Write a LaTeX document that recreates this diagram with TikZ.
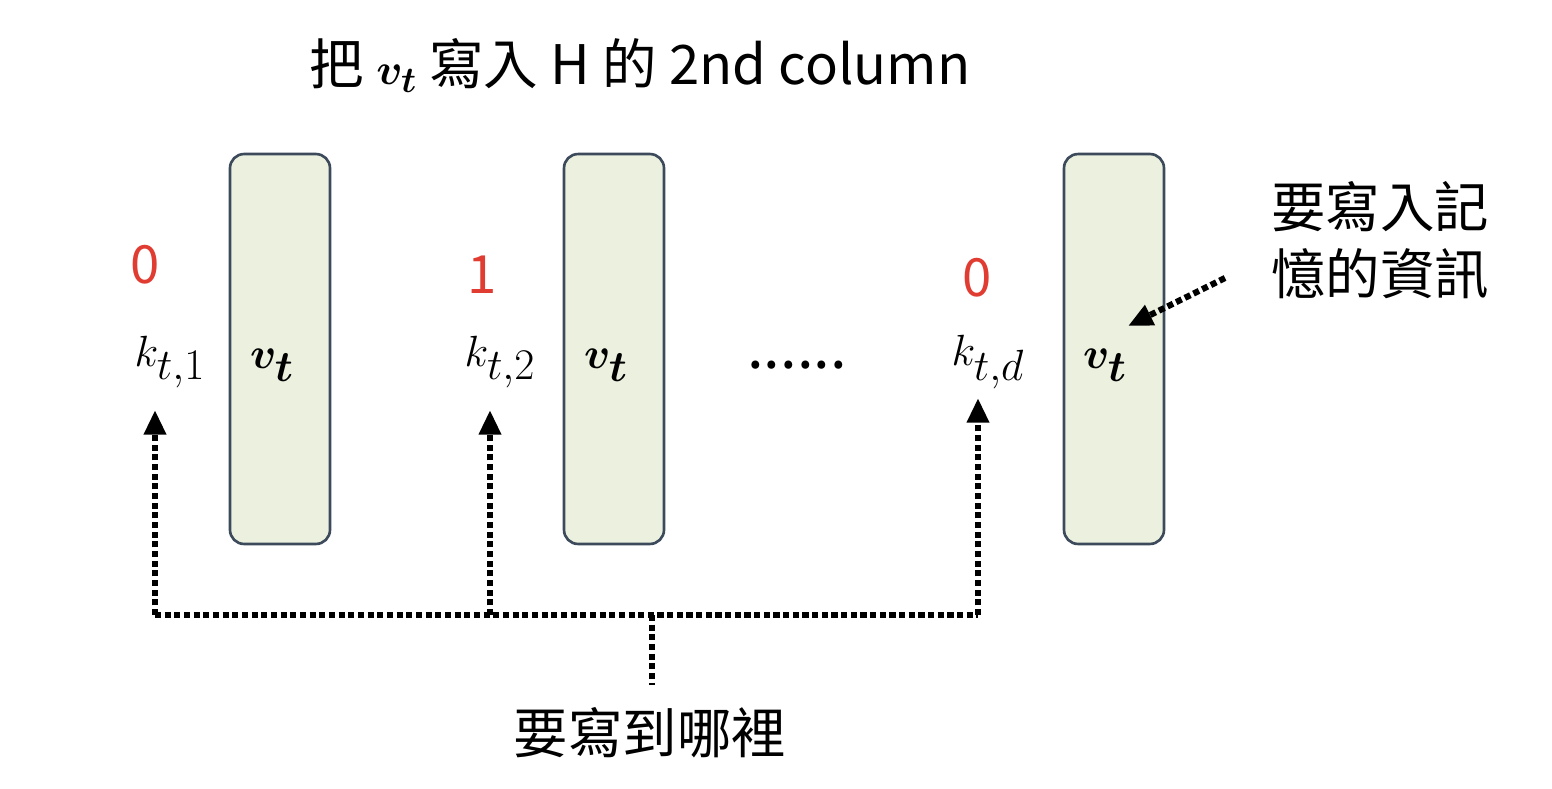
\documentclass[tikz,border=0pt]{standalone}
\usepackage{fontspec}
\usepackage{amsmath,bm}
\setmainfont{Noto Sans CJK TC}
\usetikzlibrary{arrows.meta}
\definecolor{boxfill}{HTML}{EBF1DE}
\definecolor{boxline}{HTML}{3C4A5C}
\definecolor{redz}{HTML}{E03C31}
\begin{document}
\begin{tikzpicture}[x=0.02cm,y=-0.02cm,
  col/.style={draw=boxline,line width=1.5pt,fill=boxfill,rounded corners=8pt,minimum width=2cm,minimum height=7.8cm,inner sep=0},
  cjk/.style={font=\fontsize{31}{38}\selectfont},
  kl/.style={font=\fontsize{34}{40}\selectfont},
  num/.style={text=redz,font=\fontsize{30}{36}\selectfont},
  dl/.style={line width=3.5pt,dotted,line cap=butt},
  tip/.style={-{Triangle[length=14pt,width=12pt]}}]
\useasboundingbox (0,0) rectangle (1552,788);
\node[cjk] (title) at (640,65) {把 $\bm{v_t}$ 寫入 {\rmfamily H} 的 2nd column};
\node[col] (c1) at (280,349) {};
\node[col] (c2) at (614,349) {};
\node[col] (c3) at (1114,349) {};
\node[kl] (v1) at (272,365) {$\bm{v_t}$};
\node[kl] (v2) at (606,365) {$\bm{v_t}$};
\node[kl] (v3) at (1105,365) {$\bm{v_t}$};
\node[kl] (k1) at (170,362) {$k_{t,1}$};
\node[kl] (k2) at (500,362) {$k_{t,2}$};
\node[kl] (k3) at (988,362) {$k_{t,d}$};
\node[num] (n1) at (145,265) {0};
\node[num] (n2) at (482,275) {1};
\node[num] (n3) at (977,278) {0};
\node[kl] (dots) at (797,365) {......};
\node[cjk,align=left] (info) at (1380,240) {要寫入記\\憶的資訊};
\node[cjk] (where) at (650,733) {要寫到哪裡};
\coordinate (a1) at (155,615); \coordinate (t1) at (155,410);
\coordinate (a2) at (490,615); \coordinate (t2) at (490,410);
\coordinate (a3) at (978,615); \coordinate (t3) at (978,398);
\coordinate (m) at (652,615); \coordinate (mb) at (652,685);
\coordinate (is) at (1225,278); \coordinate (it) at (1128,326);
\draw[dl] (a1) -- (a3);
\draw[dl] (m) -- (mb);
\draw[dl,tip] (a1) -- (t1);
\draw[dl,tip] (a2) -- (t2);
\draw[dl,tip] (a3) -- (t3);
\draw[dl,tip] (is) -- (it);
\end{tikzpicture}
\end{document}
